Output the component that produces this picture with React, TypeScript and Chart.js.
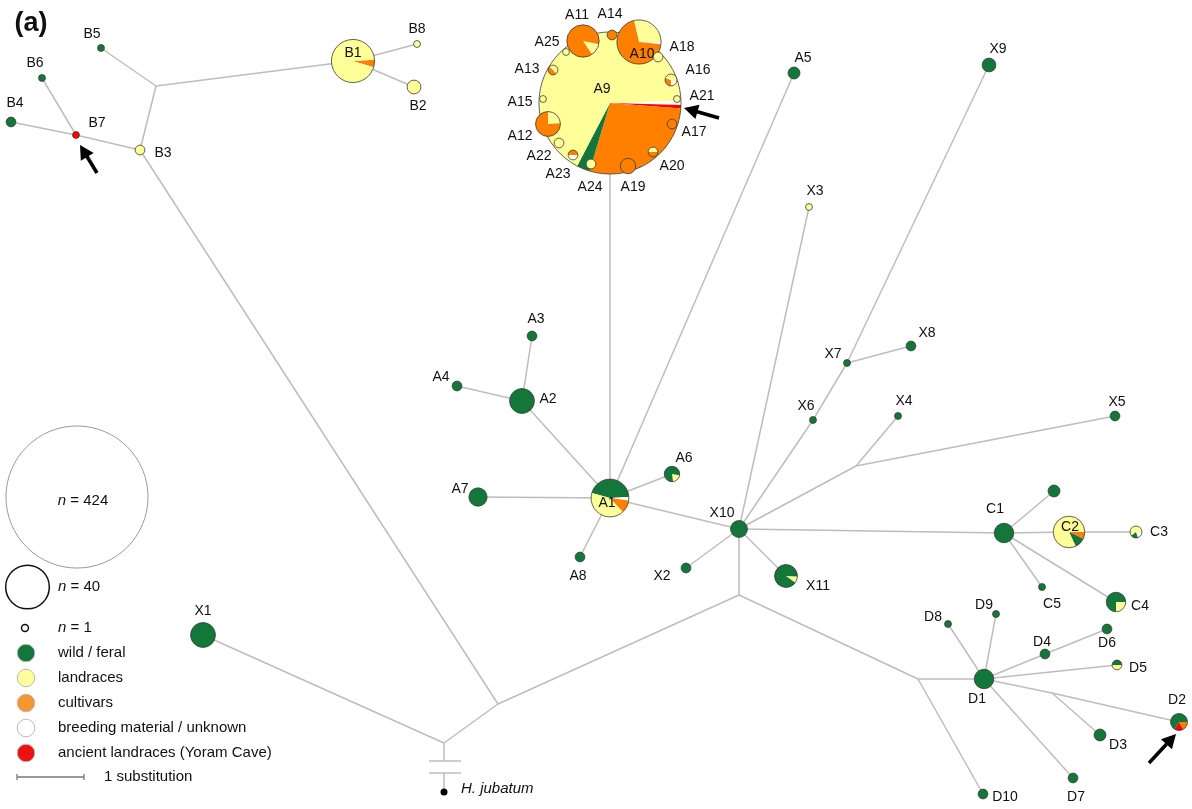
import React, { useEffect, useRef } from "react";
import { Chart, registerables } from "chart.js";

Chart.register(...registerables);

// ---------- data ----------
const groupKeys = ["W", "L", "C", "B", "R"];
const groupLabels = [
  "wild / feral",
  "landraces",
  "cultivars",
  "breeding material / unknown",
  "ancient landraces (Yoram Cave)",
];
const groupColors = ["#13763a", "#ffff99", "#ff8000", "#ffffff", "#ff0000"];
const legendColors = ["#13763a", "#ffff9e", "#f7962e", "#ffffff", "#ee1111"];

const hapNames = [
  "A9", "A11", "A14", "A10", "A25", "A18", "A13", "A16", "A15", "A21", "A12", "A17", "A22", "A20", "A23", "A24", "A19",
  "A1", "A2", "A3", "A4", "A5", "A6", "A7", "A8",
  "B1", "B2", "B3", "B4", "B5", "B6", "B7", "B8",
  "X1", "X2", "X3", "X4", "X5", "X6", "X7", "X8", "X9", "X10", "X11",
  "C1", "C0", "C2", "C3", "C4", "C5",
  "D1", "D2", "D3", "D4", "D5", "D6", "D7", "D8", "D9", "D10",
];
const hapX = [
  610, 583, 612, 639, 566, 658, 553, 671, 543, 677, 548, 672, 559, 653, 573, 591, 628,
  610, 522, 532, 457, 794, 672, 478, 580,
  353, 414, 140, 11, 101, 42, 76, 417,
  203, 686, 809, 898, 1115, 813, 847, 911, 989, 739, 786,
  1004, 1054, 1069, 1136, 1116, 1042,
  984, 1179, 1100, 1045, 1117, 1107, 1073, 948, 996, 983,
];
const hapY = [
  103, 41, 35, 42, 52, 57, 70, 80, 99, 99, 124, 124, 143, 152, 155, 164, 166,
  498, 401, 336, 386, 73, 474, 497, 557,
  61, 87, 150, 122, 48, 78, 135, 44,
  635, 568, 207, 416, 416, 420, 363, 346, 65, 529, 576,
  533, 491, 532, 532, 602, 587,
  679, 722, 735, 654, 665, 629, 778, 624, 614, 794,
];
const hapCounts = [
  424, 22, 2, 41, 1, 2, 2, 3, 1, 1, 13, 2, 2, 2, 2, 2, 5,
  30, 13, 2, 2, 3, 5, 7, 2,
  39, 4, 2, 2, 1, 1, 1, 1,
  13, 2, 1, 1, 2, 1, 1, 2, 4, 6, 11,
  8, 3, 21, 3, 8, 1,
  8, 6, 3, 2, 2, 2, 2, 1, 1, 2,
];
// composition of each haplotype: [group, share]
const hapMix: [string, number][][] = [
  [["B", 0.01], ["R", 0.008], ["C", 0.284], ["W", 0.03], ["L", 0.668]],
  [["B", 0.012], ["L", 0.11], ["C", 0.878]],
  [["C", 1]],
  [["L", 0.29], ["B", 0.012], ["C", 0.698]],
  [["L", 1]],
  [["L", 1]],
  [["C", 0.5], ["L", 0.5]],
  [["B", 0.2], ["C", 0.3], ["L", 0.5]],
  [["L", 1]],
  [["L", 1]],
  [["L", 0.24], ["C", 0.76]],
  [["C", 1]],
  [["L", 1]],
  [["C", 0.5], ["L", 0.5]],
  [["C", 0.5], ["B", 0.5]],
  [["L", 1]],
  [["C", 1]],
  [["W", 0.45], ["B", 0.03], ["C", 0.11], ["L", 0.41]],
  [["W", 1]], [["W", 1]], [["W", 1]], [["W", 1]],
  [["L", 0.2], ["W", 0.8]],
  [["W", 1]], [["W", 1]],
  [["C", 0.055], ["L", 0.945]],
  [["L", 1]], [["L", 1]], [["W", 1]], [["W", 1]], [["W", 1]], [["R", 1]], [["L", 1]],
  [["W", 1]], [["W", 1]], [["L", 1]], [["W", 1]], [["W", 1]], [["W", 1]], [["W", 1]], [["W", 1]], [["W", 1]], [["W", 1]],
  [["L", 0.09], ["W", 0.91]],
  [["W", 1]], [["W", 1]],
  [["C", 0.07], ["W", 0.11], ["L", 0.82]],
  [["B", 0.2], ["W", 0.2], ["L", 0.6]],
  [["L", 0.25], ["W", 0.75]],
  [["W", 1]],
  [["W", 1]],
  [["C", 0.17], ["R", 0.17], ["W", 0.66]],
  [["W", 1]], [["W", 1]],
  [["L", 0.5], ["W", 0.5]],
  [["W", 1]], [["W", 1]], [["W", 1]], [["W", 1]], [["W", 1]],
];
const hapSliceStart = [
  -2, 12, 0, 257, 0, 0, 45, 20, 0, 0, 270, 0, 0, 0, 180, 0, 0,
  195, 0, 0, 0, 0, 10, 0, 0,
  -3, 0, 0, 0, 0, 0, 0, 0,
  0, 0, 0, 0, 0, 0, 0, 0, 0, 0, 3,
  0, 0, 0, 0, 0, 0,
  0, 0, 0, 0, 0, 0, 0, 0, 0, 0,
];
const labelDX = [
  -8, -6, -2, 3, -19, 24, -26, 27, -23, 25, -28, 22, -20, 19, -15, -1, 5,
  -3, 26, 4, -16, 9, 12, -18, -2,
  0, 4, 23, 4, -9, -7, 21, 0,
  0, -24, 6, 6, 2, -7, -14, 16, 9, -17, 32,
  -9, 0, 1, 23, 24, 10,
  -7, -2, 18, -3, 21, 0, 3, -15, -12, 22,
];
const labelDY = [
  -14, -26, -21, 12, -10, -10, -1, -10, 3, -3, 12, 8, 13, 14, 19, 23, 21,
  5, -2, -17, -9, -15, -16, -8, 19,
  -8, 19, 3, -19, -14, -15, -12, -15,
  -24, 8, -16, -15, -14, -14, -9, -13, -16, -16, 10,
  -24, 0, -5, 0, 4, 17,
  20, -22, 10, -12, 3, 14, 19, -7, -9, 3,
];

// median vectors / auxiliary points
const junctionNames = ["JB", "R1", "R2", "R3", "R4", "R5", "JX", "HJ", "BR1", "BR2", "T1L", "T1R", "T2L", "T2R"];
const junctionX = [156, 444, 498, 739, 918, 1052, 856, 444, 444, 444, 429, 461, 429, 461];
const junctionY = [86, 743, 704, 595, 679, 693, 466, 792, 761, 773, 761, 761, 773, 773];

const edgeFrom = [
  "B4", "B6", "B7", "B3", "JB", "JB", "B1", "B1", "B3", "R2", "X1", "R1", "BR2", "T1L", "T2L",
  "R2", "R3", "R3", "R4", "R4", "D1", "D1", "D1", "D4", "D1", "D1", "R5", "R5", "D1",
  "X10", "X10", "X10", "X10", "X10", "JX", "JX", "X10", "X6", "X7", "X7", "X10",
  "C1", "C1", "C2", "C1", "C1",
  "A1", "A1", "A1", "A2", "A2", "A1", "A1", "A1",
];
const edgeTo = [
  "B7", "B7", "B3", "JB", "B5", "B1", "B8", "B2", "R2", "R1", "R1", "BR1", "HJ", "T1R", "T2R",
  "R3", "X10", "R4", "D1", "D10", "D8", "D9", "D4", "D6", "D5", "R5", "D2", "D3", "D7",
  "A1", "X2", "X11", "C1", "JX", "X4", "X5", "X6", "X7", "X9", "X8", "X3",
  "C0", "C2", "C3", "C5", "C4",
  "A9", "A5", "A2", "A3", "A4", "A7", "A8", "A6",
];

// pointer arrows: tipX, tipY, tailX, tailY
const arrowTipX = [80, 684, 1176];
const arrowTipY = [145, 108, 734];
const arrowTailX = [97, 719, 1149];
const arrowTailY = [173, 118, 763];

const legendSizes = [424, 40, 1];

// ---------- helpers ----------
const radiusOf = (n: number) => 3.45 * Math.sqrt(n);
const FONT = "'Liberation Sans', Arial, sans-serif";

function pointOf(name: string): { x: number; y: number } {
  const i = hapNames.indexOf(name);
  if (i >= 0) return { x: hapX[i], y: hapY[i] };
  const j = junctionNames.indexOf(name);
  return { x: junctionX[j], y: junctionY[j] };
}

const networkPlugin = {
  id: "network",
  afterDatasetsDraw(chart: any) {
    const ctx: CanvasRenderingContext2D = chart.ctx;
    const sx = chart.scales.x;
    const sy = chart.scales.y;
    const px = (v: number) => sx.getPixelForValue(v);
    const py = (v: number) => sy.getPixelForValue(v);
    const meta = chart.getDatasetMeta(chart.data.datasets.length - 1);

    ctx.save();
    // nodes
    hapNames.forEach((name, i) => {
      const el = meta.data[i];
      const cx = el.x;
      const cy = el.y;
      const r = radiusOf(hapCounts[i]);
      let a = (hapSliceStart[i] * Math.PI) / 180;
      hapMix[i].forEach(([g, share]) => {
        const col = groupColors[groupKeys.indexOf(g)];
        const a2 = a + share * Math.PI * 2;
        ctx.beginPath();
        if (share >= 1) {
          ctx.arc(cx, cy, r, 0, Math.PI * 2);
        } else {
          ctx.moveTo(cx, cy);
          ctx.arc(cx, cy, r, a, a2);
          ctx.closePath();
        }
        ctx.fillStyle = col;
        ctx.fill();
        a = a2;
      });
      ctx.beginPath();
      ctx.arc(cx, cy, r, 0, Math.PI * 2);
      ctx.lineWidth = 1;
      ctx.strokeStyle = "rgba(60,60,50,0.8)";
      ctx.stroke();
    });

    // H. jubatum outgroup
    const hj = pointOf("HJ");
    ctx.beginPath();
    ctx.arc(px(hj.x), py(hj.y), 3.5, 0, Math.PI * 2);
    ctx.fillStyle = "#000";
    ctx.fill();
    ctx.font = `italic 15px ${FONT}`;
    ctx.textAlign = "left";
    ctx.textBaseline = "middle";
    ctx.fillStyle = "#111";
    ctx.fillText("H. jubatum", px(hj.x) + 17, py(hj.y) - 3);

    // node labels
    ctx.font = `14px ${FONT}`;
    ctx.textAlign = "center";
    ctx.textBaseline = "middle";
    ctx.fillStyle = "#111";
    hapNames.forEach((name, i) => {
      if (name === "C0") return;
      ctx.fillText(name, px(hapX[i] + labelDX[i]), py(hapY[i] + labelDY[i]));
    });

    // arrows
    arrowTipX.forEach((tx0, k) => {
      const tx = px(tx0), ty = py(arrowTipY[k]);
      const qx = px(arrowTailX[k]), qy = py(arrowTailY[k]);
      const ang = Math.atan2(ty - qy, tx - qx);
      const head = 14, hw = 7.5;
      const bx = tx - head * Math.cos(ang), by = ty - head * Math.sin(ang);
      ctx.strokeStyle = "#000";
      ctx.fillStyle = "#000";
      ctx.lineWidth = 3.5;
      ctx.beginPath();
      ctx.moveTo(qx, qy);
      ctx.lineTo(bx + 2 * Math.cos(ang), by + 2 * Math.sin(ang));
      ctx.stroke();
      ctx.beginPath();
      ctx.moveTo(tx, ty);
      ctx.lineTo(bx + hw * Math.sin(ang), by - hw * Math.cos(ang));
      ctx.lineTo(bx - hw * Math.sin(ang), by + hw * Math.cos(ang));
      ctx.closePath();
      ctx.fill();
    });

    // title
    ctx.font = `bold 27px ${FONT}`;
    ctx.textAlign = "center";
    ctx.fillStyle = "#111";
    ctx.fillText("(a)", px(31), py(24));

    // legend: sizes
    const sizeCX = [77, 27.5, 25];
    const sizeCY = [497, 587, 628];
    const sizeTextX = [58, 58, 58];
    legendSizes.forEach((n, k) => {
      ctx.beginPath();
      ctx.arc(px(sizeCX[k]), py(sizeCY[k]), radiusOf(n), 0, Math.PI * 2);
      ctx.lineWidth = k === 0 ? 1 : 1.5;
      ctx.strokeStyle = k === 0 ? "#9a9a9a" : "#111";
      ctx.stroke();
      ctx.fillStyle = "#111";
      ctx.textAlign = "left";
      ctx.font = `italic 15px ${FONT}`;
      const nW = ctx.measureText("n").width;
      ctx.font = `15px ${FONT}`;
      const rest = ` = ${n}`;
      const rW = ctx.measureText(rest).width;
      let x0 = px(sizeTextX[k]);
      if (k === 0) x0 = px(83) - (nW + rW) / 2;
      const yy = k === 0 ? py(501) : py(sizeCY[k]);
      ctx.font = `italic 15px ${FONT}`;
      ctx.fillText("n", x0, yy);
      ctx.font = `15px ${FONT}`;
      ctx.fillText(rest, x0 + nW, yy);
    });

    // legend: groups
    groupLabels.forEach((lab, k) => {
      const cy = py(653 + k * 25);
      ctx.beginPath();
      ctx.arc(px(26), cy, 8.8, 0, Math.PI * 2);
      ctx.fillStyle = legendColors[k];
      ctx.fill();
      ctx.lineWidth = 1;
      ctx.strokeStyle = "#bbbbbb";
      ctx.stroke();
      ctx.fillStyle = "#111";
      ctx.font = `15px ${FONT}`;
      ctx.textAlign = "left";
      ctx.fillText(lab, px(58), cy);
    });

    // scale bar
    const by0 = py(777);
    ctx.strokeStyle = "#777";
    ctx.lineWidth = 1.3;
    ctx.beginPath();
    ctx.moveTo(px(17), by0);
    ctx.lineTo(px(84), by0);
    ctx.moveTo(px(17), by0 - 3);
    ctx.lineTo(px(17), by0 + 3);
    ctx.moveTo(px(84), by0 - 3);
    ctx.lineTo(px(84), by0 + 3);
    ctx.stroke();
    ctx.fillStyle = "#111";
    ctx.fillText("1 substitution", px(104), by0);
    ctx.restore();
  },
};

export default function App() {
  const ref = useRef<HTMLCanvasElement | null>(null);

  useEffect(() => {
    document.body.style.margin = "0";
    const edgeSets = edgeFrom.map((f, i) => {
      const a = pointOf(f);
      const b = pointOf(edgeTo[i]);
      return {
        type: "scatter" as const,
        data: [a, b],
        showLine: true,
        borderColor: "#bdbdbd",
        borderWidth: 1.5,
        pointRadius: 0,
        pointHoverRadius: 0,
      };
    });
    const nodeSet = {
      type: "scatter" as const,
      label: "haplotypes",
      data: hapNames.map((_, i) => ({ x: hapX[i], y: hapY[i] })),
      pointRadius: 0,
      pointHoverRadius: 0,
      showLine: false,
    };
    const chart = new Chart(ref.current as HTMLCanvasElement, {
      type: "scatter",
      data: { datasets: [...edgeSets, nodeSet] as any },
      options: {
        animation: false,
        responsive: false,
        devicePixelRatio: 1,
        layout: { padding: 0 },
        plugins: { legend: { display: false }, tooltip: { enabled: false } },
        events: [],
        scales: {
          x: { type: "linear", min: 0, max: 1192, display: false },
          y: { type: "linear", min: 0, max: 809, reverse: true, display: false },
        },
      },
      plugins: [networkPlugin],
    });
    return () => chart.destroy();
  }, []);

  return (
    <div style={{ position: "absolute", left: 0, top: 0, width: 1192, height: 809, background: "#fff" }}>
      <canvas ref={ref} width={1192} height={809} style={{ display: "block" }} />
    </div>
  );
}
